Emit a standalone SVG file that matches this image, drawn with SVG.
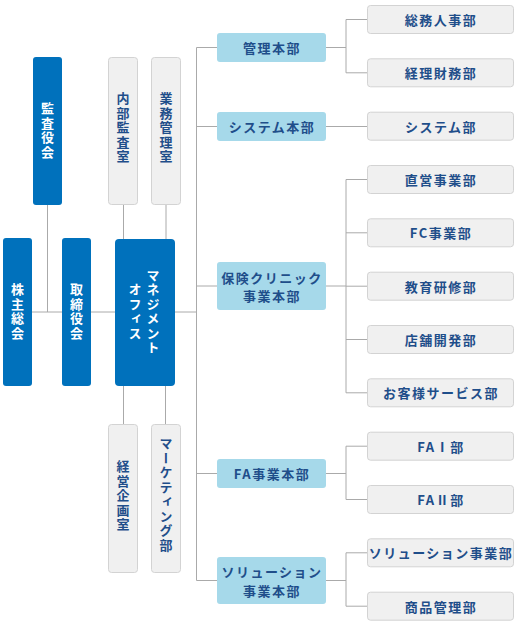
<svg xmlns="http://www.w3.org/2000/svg" width="520" height="626" viewBox="0 0 520 626">
<style>
.dk{fill:#0071bc}
.lb{fill:#a6d9ea}
.gy{fill:#f0f0f0;stroke:#d3d3d3;stroke-width:1}
text{font-family:"Noto Sans CJK JP","Noto Sans",sans-serif;font-weight:bold;font-size:13px;letter-spacing:1.5px;text-anchor:middle}
.w{fill:#ffffff}
.b{fill:#1f4e8a}
.v{writing-mode:vertical-rl;dominant-baseline:central}
.h{dominant-baseline:central}
#connectors line{stroke:#aaaaaa;stroke-width:1}
</style>
<rect width="520" height="626" fill="#ffffff"/>
<g id="connectors">
<line x1="196.5" y1="47.5" x2="196.5" y2="580.5"/>
<line x1="196.5" y1="47.5" x2="217" y2="47.5"/>
<line x1="196.5" y1="126.5" x2="217" y2="126.5"/>
<line x1="196.5" y1="286" x2="217" y2="286"/>
<line x1="196.5" y1="473.5" x2="217" y2="473.5"/>
<line x1="196.5" y1="580.5" x2="217" y2="580.5"/>
<line x1="175" y1="312" x2="196.5" y2="312"/>
<line x1="32" y1="312" x2="62" y2="312"/>
<line x1="91" y1="312" x2="115" y2="312"/>
<line x1="47.5" y1="205" x2="47.5" y2="312"/>
<line x1="123.5" y1="205" x2="123.5" y2="239"/>
<line x1="166" y1="205" x2="166" y2="239"/>
<line x1="123.5" y1="386" x2="123.5" y2="424"/>
<line x1="165.5" y1="386" x2="165.5" y2="424"/>
<line x1="326" y1="47.5" x2="346" y2="47.5"/>
<line x1="346" y1="19.5" x2="346" y2="72.8"/>
<line x1="346" y1="19.5" x2="367" y2="19.5"/>
<line x1="346" y1="72.8" x2="367" y2="72.8"/>
<line x1="326" y1="126.5" x2="367" y2="126.5"/>
<line x1="326" y1="286" x2="346" y2="286"/>
<line x1="346" y1="179.5" x2="346" y2="392.8"/>
<line x1="346" y1="179.5" x2="367" y2="179.5"/>
<line x1="346" y1="232.8" x2="367" y2="232.8"/>
<line x1="346" y1="286.2" x2="367" y2="286.2"/>
<line x1="346" y1="339.5" x2="367" y2="339.5"/>
<line x1="346" y1="392.8" x2="367" y2="392.8"/>
<line x1="326" y1="473.5" x2="346" y2="473.5"/>
<line x1="346" y1="446.2" x2="346" y2="499.5"/>
<line x1="346" y1="446.2" x2="367" y2="446.2"/>
<line x1="346" y1="499.5" x2="367" y2="499.5"/>
<line x1="326" y1="580.5" x2="346" y2="580.5"/>
<line x1="346" y1="552.8" x2="346" y2="606.2"/>
<line x1="346" y1="552.8" x2="367" y2="552.8"/>
<line x1="346" y1="606.2" x2="367" y2="606.2"/>
</g>
<g id="kansayakukai"><rect class="dk" x="33" y="57" width="29" height="148" rx="3"/><text class="w v" x="47.5" y="131">監査役会</text></g>
<g id="naibukansashitsu"><rect class="gy" x="108.5" y="57.5" width="29" height="147" rx="3"/><text class="b v" x="123" y="128">内部監査室</text></g>
<g id="gyomukanrishitsu"><rect class="gy" x="151.5" y="57.5" width="29" height="147" rx="3"/><text class="b v" x="166" y="128">業務管理室</text></g>
<g id="kabunushisokai"><rect class="dk" x="3" y="238" width="29" height="148" rx="3"/><text class="w v" x="17.5" y="312">株主総会</text></g>
<g id="torishimariyakukai"><rect class="dk" x="62" y="238" width="29" height="148" rx="3"/><text class="w v" x="76.5" y="312">取締役会</text></g>
<g id="management"><rect class="dk" x="115" y="239" width="60" height="147" rx="4"/><text class="w v" x="153" y="312">マネジメント</text><text class="w v" x="135" y="312">オフィス</text></g>
<g id="keieikikakushitsu"><rect class="gy" x="108.5" y="424.5" width="29" height="148" rx="3"/><text class="b v" x="123" y="496">経営企画室</text></g>
<g id="marketing"><rect class="gy" x="151.5" y="424.5" width="29" height="148" rx="3"/><text class="b v" x="166" y="495">マーケティング部</text></g>
<g id="kanrihonbu"><rect class="lb" x="217" y="33" width="109" height="29" rx="3"/><text class="b h" x="272" y="47.5">管理本部</text></g>
<g id="systemhonbu"><rect class="lb" x="217" y="112" width="109" height="29" rx="3"/><text class="b h" x="272" y="126.5">システム本部</text></g>
<g id="hokenhonbu"><rect class="lb" x="217" y="262" width="109" height="48" rx="3"/><text class="b h" x="272" y="277">保険クリニック</text><text class="b h" x="272" y="295.5">事業本部</text></g>
<g id="fahonbu"><rect class="lb" x="217" y="459" width="109" height="29" rx="3"/><text class="b h" x="272" y="473.5">FA事業本部</text></g>
<g id="solutionhonbu"><rect class="lb" x="217" y="557" width="109" height="47" rx="3"/><text class="b h" x="272" y="571.5">ソリューション</text><text class="b h" x="272" y="590">事業本部</text></g>
<g id="somujinji"><rect class="gy" x="367.5" y="5.5" width="146" height="28" rx="3"/><text class="b h" x="441" y="19.5">総務人事部</text></g>
<g id="keirizaimu"><rect class="gy" x="367.5" y="58.8" width="146" height="28" rx="3"/><text class="b h" x="441" y="72.8">経理財務部</text></g>
<g id="systembu"><rect class="gy" x="367.5" y="112.2" width="146" height="28" rx="3"/><text class="b h" x="441" y="126.2">システム部</text></g>
<g id="chokuei"><rect class="gy" x="367.5" y="165.5" width="146" height="28" rx="3"/><text class="b h" x="441" y="179.5">直営事業部</text></g>
<g id="fcjigyo"><rect class="gy" x="367.5" y="218.8" width="146" height="28" rx="3"/><text class="b h" x="441" y="232.8">FC事業部</text></g>
<g id="kyoikukenshu"><rect class="gy" x="367.5" y="272.2" width="146" height="28" rx="3"/><text class="b h" x="441" y="286.2">教育研修部</text></g>
<g id="tenpokaihatsu"><rect class="gy" x="367.5" y="325.5" width="146" height="28" rx="3"/><text class="b h" x="441" y="339.5">店舗開発部</text></g>
<g id="customerservice"><rect class="gy" x="367.5" y="378.8" width="146" height="28" rx="3"/><text class="b h" x="441" y="392.8">お客様サービス部</text></g>
<g id="fa1"><rect class="gy" x="367.5" y="432.2" width="146" height="28" rx="3"/><text class="b h" x="441" y="446.2">FAⅠ部</text></g>
<g id="fa2"><rect class="gy" x="367.5" y="485.5" width="146" height="28" rx="3"/><text class="b h" x="441" y="499.5">FAⅡ部</text></g>
<g id="solutionjigyo"><rect class="gy" x="367.5" y="538.8" width="146" height="28" rx="3"/><text class="b h" x="441" y="552.8">ソリューション事業部</text></g>
<g id="shohinkanri"><rect class="gy" x="367.5" y="592.2" width="146" height="28" rx="3"/><text class="b h" x="441" y="606.2">商品管理部</text></g>
</svg>
